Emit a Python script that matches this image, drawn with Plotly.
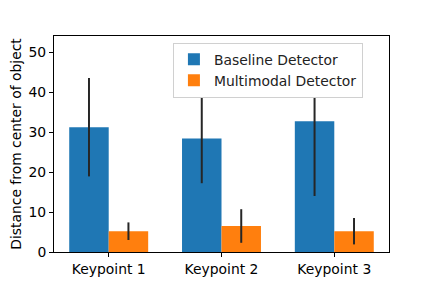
import plotly.graph_objects as go

categories = ["Keypoint 1", "Keypoint 2", "Keypoint 3"]
baseline_mean = [31.2, 28.4, 32.7]
baseline_err = [12.3, 11.2, 18.7]
multimodal_mean = [5.2, 6.5, 5.2]
multimodal_err = [2.2, 4.2, 3.3]

err_style = dict(type="data", thickness=2, width=0, color="#262626")

fig = go.Figure()
fig.add_trace(go.Bar(
    name="Baseline Detector", x=categories, y=baseline_mean,
    marker=dict(color="#1f77b4", line=dict(width=0)),
    error_y=dict(array=baseline_err, **err_style),
))
fig.add_trace(go.Bar(
    name="Multimodal Detector", x=categories, y=multimodal_mean,
    marker=dict(color="#ff7f0e", line=dict(width=0)),
    error_y=dict(array=multimodal_err, **err_style),
))

FS = 13.9
axis_common = dict(
    showline=True, linecolor="black", linewidth=1, mirror=True,
    ticks="outside", ticklen=4, tickcolor="black", tickwidth=1,
    showgrid=False, zeroline=False,
    tickfont=dict(family="DejaVu Sans", size=FS, color="black"),
)

fig.update_layout(
    width=424, height=280,
    margin=dict(l=46, r=43, t=28, b=36),
    paper_bgcolor="white", plot_bgcolor="white",
    barmode="group", bargap=0.3, bargroupgap=0,
    font=dict(family="DejaVu Sans", size=FS, color="black"),
    showlegend=True,
    legend=dict(
        x=0.355, y=0.969, xanchor="left", yanchor="top",
        bgcolor="white", bordercolor="#d0d0d0", borderwidth=1,
        font=dict(family="DejaVu Sans", size=FS, color="#222222"),
        tracegroupgap=0, itemwidth=30,
    ),
    xaxis=dict(range=[-0.485, 2.485], automargin=False, **axis_common),
    yaxis=dict(range=[0, 54], tickvals=[0, 10, 20, 30, 40, 50], automargin=False,
               title=dict(text="Distance from center of object", standoff=6,
                          font=dict(family="DejaVu Sans", size=FS, color="black")),
               **axis_common),
)

fig.write_html("out.html")
